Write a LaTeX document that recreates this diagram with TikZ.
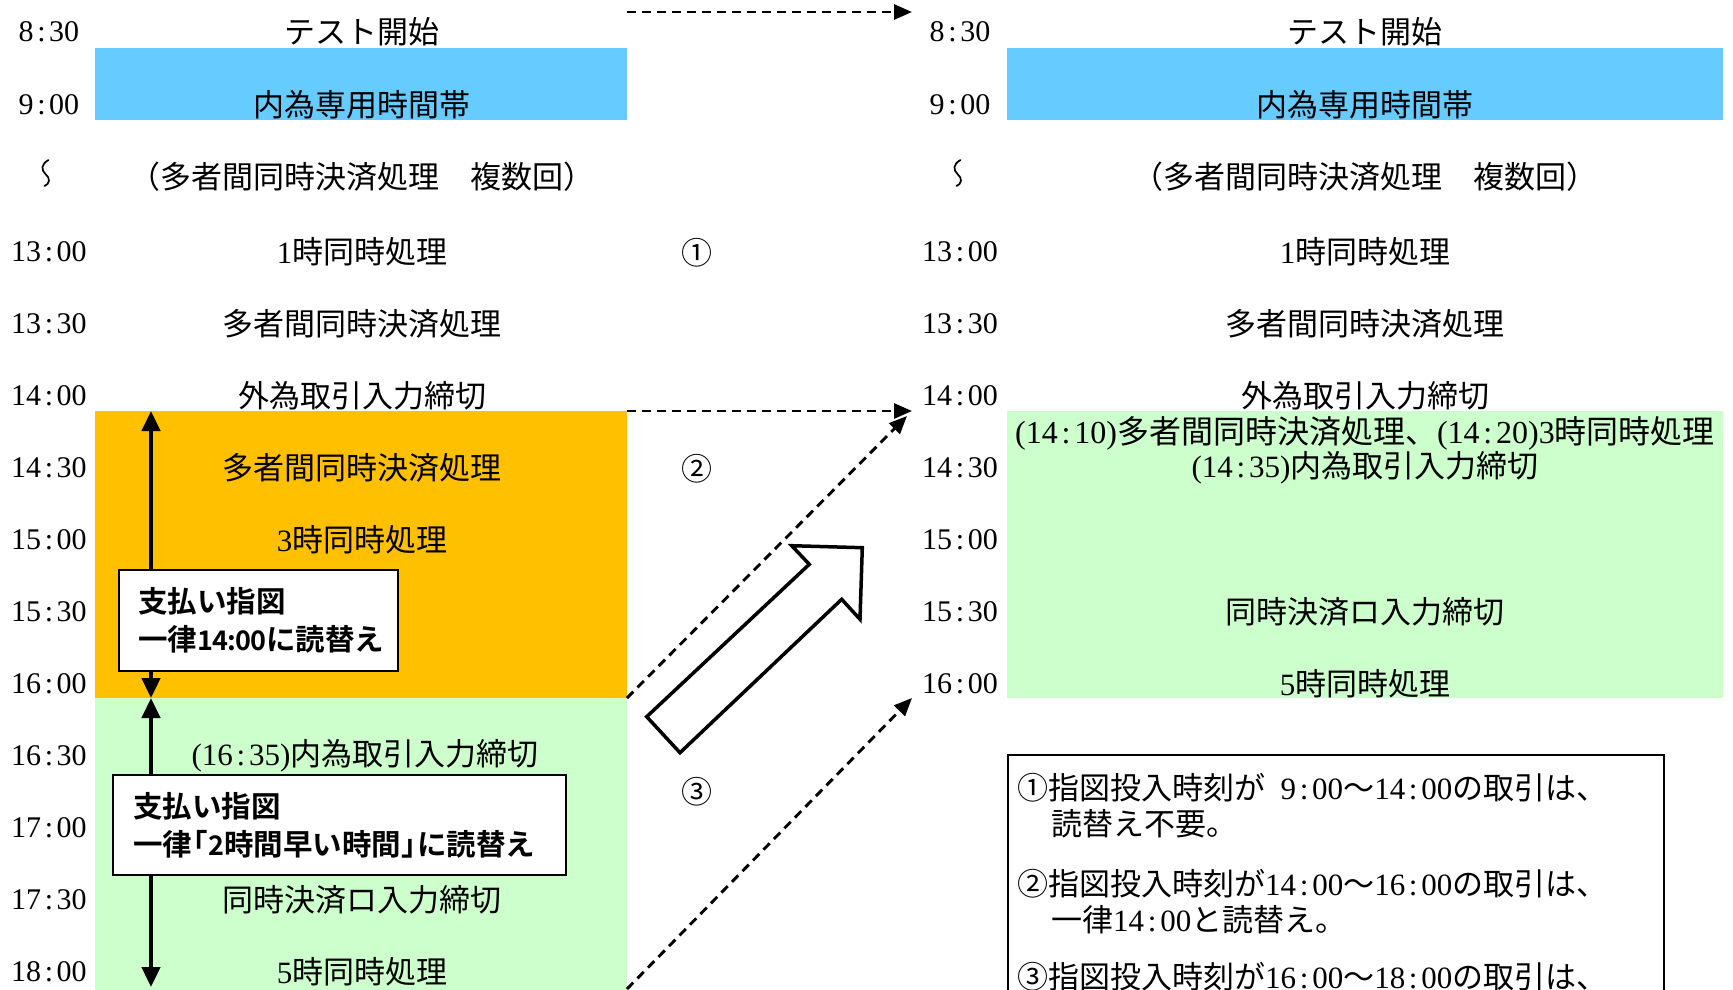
\documentclass[tikz,border=0pt]{standalone}
\usepackage{fontspec}
\setmainfont{Liberation Serif}
\newfontfamily\cjk[BoldFont={Noto Sans CJK JP Bold}]{Noto Sans CJK JP}
\usetikzlibrary{arrows.meta}
\definecolor{bandblue}{HTML}{66CCFF}
\definecolor{bandorange}{HTML}{FFC000}
\definecolor{bandgreen}{HTML}{CCFFCC}
\newcommand{\J}[1]{{\cjk #1}}
\newcommand{\tc}{\kern.12em:\kern.12em}
\newcommand{\nd}[1]{{\fontsize{27}{38}\selectfont #1}}
\begin{document}
\begin{tikzpicture}[x=1pt,y=-1pt,
  tm/.style={font=\fontsize{30}{36}\selectfont, inner sep=0pt},
  row/.style={font=\fontsize{31}{36}\selectfont, inner sep=0pt},
  note/.style={font=\fontsize{31}{36}\selectfont, inner sep=0pt, anchor=west},
  dasharrow/.style={line width=2.9pt, dash pattern=on 9pt off 6pt, -{Triangle[length=18pt,width=15pt]}},
  varrow/.style={line width=4.6pt, {Triangle[length=20pt,width=18pt]}-{Triangle[length=20pt,width=18pt]}},
  callout/.style={draw, line width=2.8pt, fill=white, inner ysep=0pt, align=left,
    font=\cjk\bfseries\fontsize{29.5}{38}\selectfont},
  blockarrow/.style={draw, line width=3.5pt, fill=white, line join=miter}
]
\useasboundingbox (0,0) rectangle (1733,989);
\clip (0,0) rectangle (1733,989);

% colour bands
\fill[bandblue] (95,47.5) rectangle (627,119.5);
\fill[bandorange] (95,411) rectangle (627,698);
\fill[bandgreen] (95,698) rectangle (627,995);
\fill[bandblue] (1007,47.5) rectangle (1723,119.5);
\fill[bandgreen] (1007,411) rectangle (1723,698);

% connector end points
\coordinate (topL) at (627,12);
\coordinate (topR) at (912,12);
\coordinate (oTL) at (627,411);
\coordinate (gTR) at (912,411);
\coordinate (oBL) at (627,698);
\coordinate (gTR2) at (907,416);
\coordinate (gBL) at (627,989);
\coordinate (gBR) at (912,698);
\coordinate (a1t) at (151,411);
\coordinate (a1b) at (151,698);
\coordinate (a2t) at (151,698);
\coordinate (a2b) at (151,987);

% dashed mapping arrows
\draw[dasharrow] (topL) -- (topR);
\draw[dasharrow] (oTL) -- (gTR);
\draw[dasharrow] (oBL) -- (gTR2);
\draw[dasharrow] (gBL) -- (gBR);

% block arrow
\draw[blockarrow] (646.7,716.7) -- (809.3,564.3) -- (791.7,545.7) -- (862.3,547.7)
  -- (860,619.3) -- (841.7,599.3) -- (680,752.7) -- cycle;

% vertical double arrows
\draw[varrow] (a1t) -- (a1b);
\draw[varrow] (a2t) -- (a2b);

% time labels left
\foreach \n/\t/\y in {0/8\tc30/32, 1/9\tc00/105, 3/13\tc00/252, 4/13\tc30/324,
  5/14\tc00/396, 6/14\tc30/468, 7/15\tc00/540, 8/15\tc30/612, 9/16\tc00/684,
  10/16\tc30/756, 11/17\tc00/828, 12/17\tc30/900, 13/18\tc00/972}
  \node[tm] (tl\n) at (49,\y) {\t};
% time labels right
\foreach \n/\t/\y in {0/8\tc30/32, 1/9\tc00/105, 3/13\tc00/252, 4/13\tc30/324,
  5/14\tc00/396, 6/14\tc30/468, 7/15\tc00/540, 8/15\tc30/612, 9/16\tc00/684}
  \node[tm] (tr\n) at (960,\y) {\t};

% wave marks
\draw[line width=1.7pt, line cap=round] (48.5,160) .. controls (41,164) and (41,170) .. (45.5,174)
  .. controls (50.5,178) and (50,184) .. (44.5,186);
\draw[line width=1.7pt, line cap=round] (960.5,160) .. controls (953,164) and (953,170) .. (957.5,174)
  .. controls (962.5,178) and (962,184) .. (956.5,186);

% left column texts
\node[row] (L0) at (362,32) {\J{テスト開始}};
\node[row] (L1) at (362,105) {\J{内為専用時間帯}};
\node[row] (L2) at (362,177) {\J{（多者間同時決済処理　複数回）}};
\node[row] (L3) at (362,252) {1\J{時同時処理}};
\node[row] (L4) at (362,324) {\J{多者間同時決済処理}};
\node[row] (L5) at (362,396) {\J{外為取引入力締切}};
\node[row] (L6) at (362,468) {\J{多者間同時決済処理}};
\node[row] (L7) at (362,540) {3\J{時同時処理}};
\node[row] (L10) at (365,756) {(16\tc35)\J{内為取引入力締切}};
\node[row] (L12) at (362,900) {\J{同時決済ロ入力締切}};
\node[row] (L13) at (362,972) {5\J{時同時処理}};

% right column texts
\node[row] (R0) at (1365,32) {\J{テスト開始}};
\node[row] (R1) at (1365,105) {\J{内為専用時間帯}};
\node[row] (R2) at (1365,177) {\J{（多者間同時決済処理　複数回）}};
\node[row] (R3) at (1365,252) {1\J{時同時処理}};
\node[row] (R4) at (1365,324) {\J{多者間同時決済処理}};
\node[row] (R5) at (1365,396) {\J{外為取引入力締切}};
\node[row, font=\fontsize{32}{36}\selectfont] (R6) at (1365,433) {(14\tc10)\J{多者間同時決済処理、}(14\tc20)3\J{時同時処理}};
\node[row] (R7) at (1365,468) {(14\tc35)\J{内為取引入力締切}};
\node[row] (R8) at (1365,612) {\J{同時決済ロ入力締切}};
\node[row] (R9) at (1365,684) {5\J{時同時処理}};

% circled numbers
\node[row] (c1) at (697,253) {\J{①}};
\node[row] (c2) at (697,469) {\J{②}};
\node[row] (c3) at (697,792) {\J{③}};

% callouts
\node[callout, minimum width=279pt, minimum height=101pt, text width=241pt, inner xsep=19pt]
  (call1) at (258.5,620.5) {支払い指図\\一律\nd{1\kern-.03em4\kern-.03em:\kern-.03em0\kern-.03em0}に読替え};
\node[callout, minimum width=453pt, minimum height=100pt, text width=413pt, inner xsep=20pt]
  (call2) at (339.5,825) {支払い指図\\一律\kern-.45em「\nd{2}時間早い時間」\kern-.45em に読替え};

% note box
\node[draw, line width=2pt, anchor=north west, minimum width=656pt, minimum height=300pt, inner sep=0pt]
  (notebox) at (1007,754) {};
\node[note] (n1) at (1017,788) {\J{①指図投入時刻が}\hphantom{1}9\tc00\J{～}14\tc00\J{の取引は、}};
\node[note] (n2) at (1051,824) {\J{読替え不要。}};
\node[note] (n3) at (1017,884) {\J{②指図投入時刻が}14\tc00\J{～}16\tc00\J{の取引は、}};
\node[note] (n4) at (1051,920) {\J{一律}14\tc00\J{と読替え。}};
\node[note] (n5) at (1017,977) {\J{③指図投入時刻が}16\tc00\J{～}18\tc00\J{の取引は、}};
\end{tikzpicture}
\end{document}
